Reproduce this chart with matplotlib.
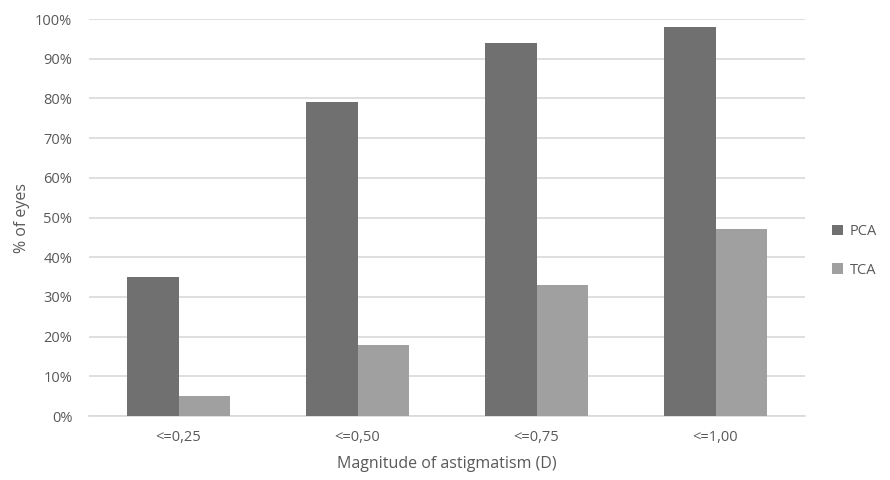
import matplotlib.pyplot as plt
import numpy as np

categories = ["<=0,25", "<=0,50", "<=0,75", "<=1,00"]
pca = [35, 79, 94, 98]
tca = [5, 18, 33, 47]

plt.rcParams["font.family"] = ["Open Sans", "DejaVu Sans"]
text_color = "#595959"

fig = plt.figure(figsize=(8.9, 4.8), dpi=100)
ax = fig.add_axes([0.1, 0.1333, 0.8045, 0.8271])

x = np.arange(len(categories))
w = 0.285
ax.bar(x - w / 2, pca, w, color="#707070", label="PCA", zorder=3)
ax.bar(x + w / 2, tca, w, color="#a0a0a0", label="TCA", zorder=3)

ax.set_xlim(-0.5, len(categories) - 0.5)
ax.set_ylim(0, 100)
ax.set_yticks(range(0, 101, 10))
ax.set_yticklabels([f"{v}%" for v in range(0, 101, 10)])
ax.set_xticks(x)
ax.set_xticklabels(categories)
ax.grid(axis="y", color="#d9d9d9", linewidth=1.2, zorder=0)
ax.tick_params(length=0, colors=text_color, labelsize=10.5)
ax.tick_params(axis="y", pad=12)
ax.tick_params(axis="x", pad=10)
for s in ["top", "right", "left"]:
    ax.spines[s].set_visible(False)
ax.spines["bottom"].set_color("#d9d9d9")
ax.spines["bottom"].set_linewidth(1.2)

ax.set_xlabel("Magnitude of astigmatism (D)", color=text_color, fontsize=11.5, labelpad=8)
ax.set_ylabel("% of eyes", color=text_color, fontsize=11.5, labelpad=4)

ax.legend(loc="center left", bbox_to_anchor=(1.02, 0.416), frameon=False,
          labelcolor=text_color, fontsize=10.5, handlelength=0.7, handleheight=0.7,
          labelspacing=1.6, handletextpad=0.5)

fig.savefig("out.png", dpi=100)
